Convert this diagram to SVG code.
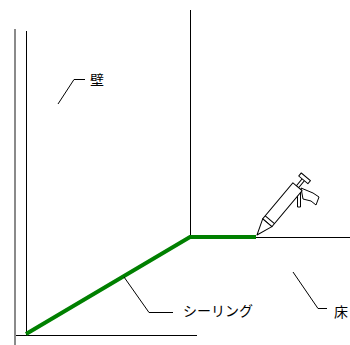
<svg xmlns="http://www.w3.org/2000/svg" width="350" height="345" viewBox="0 0 350 345">
  <style>
    .ln { stroke: #000; stroke-width: 1; fill: none; }
    .seal { stroke: #008000; stroke-width: 4; fill: none; stroke-linejoin: miter; }
    .gun { stroke: #000; stroke-width: 1; fill: #fff; stroke-linejoin: round; }
    .lbl { font-family: "Noto Sans CJK JP", "Liberation Sans", sans-serif; font-size: 14px; fill: #000; }
  </style>
  <rect width="350" height="345" fill="#fff"/>

  <!-- room edges -->
  <g id="room">
    <line x1="15" y1="29" x2="15" y2="345" stroke="#8a8a8a" stroke-width="2"/>
    <line class="ln" x1="26.5" y1="31" x2="26.5" y2="335"/>
    <line class="ln" x1="16" y1="335.5" x2="197" y2="335.5"/>
    <line class="ln" x1="190.5" y1="10" x2="190.5" y2="237"/>
    <line class="ln" x1="256" y1="237.5" x2="350" y2="237.5"/>
  </g>

  <!-- sealed joint -->
  <g id="sealing-bead">
    <polyline class="seal" points="26,334 190,237 256,237"/>
  </g>

  <!-- caulking gun -->
  <g id="caulking-gun">
    <path class="gun" d="M301,188 L313,193 L319,197 L316,205 L311,201 L303,199 Z"/>
    <rect class="gun" x="297.5" y="192" width="3" height="15"/>
    <g transform="translate(257,235) rotate(-50)">
      <rect class="gun" x="63" y="-1.5" width="10" height="3"/>
      <rect class="gun" x="72" y="-6" width="4" height="12"/>
      <rect class="gun" x="16" y="-6" width="47" height="12"/>
      <line class="ln" x1="20" y1="-6" x2="20" y2="6"/>
      <polygon class="gun" points="0,0 16,-6 16,6"/>
    </g>
  </g>

  <!-- labels with leaders -->
  <g id="connectors">
    <polyline class="ln" points="58,104 74,79.5 85,79.5"/>
    <polyline class="ln" points="124,277 149,312.5 173,312.5"/>
    <polyline class="ln" points="293,272 318,308.5 327,308.5"/>
  </g>
  <g id="label-wall"><text class="lbl" x="90" y="85">壁</text></g>
  <g id="label-sealing"><text class="lbl" x="183" y="316">シーリング</text></g>
  <g id="label-floor"><text class="lbl" x="334" y="317">床</text></g>
</svg>
